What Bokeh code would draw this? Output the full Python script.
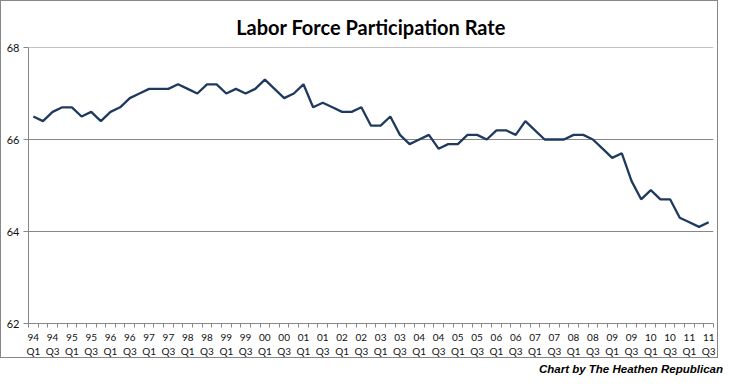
from bokeh.plotting import figure
from bokeh.models import FixedTicker, Range1d, Span, Div
from bokeh.layouts import column
from bokeh.embed import file_html
from bokeh.resources import INLINE

# ---- data ----
years = ["94", "95", "96", "97", "98", "99", "00", "01", "02",
         "03", "04", "05", "06", "07", "08", "09", "10", "11"]
quarters = ["Q1", "Q2", "Q3", "Q4"]
categories = [f"{y} {q}" for y in years for q in quarters][:71]  # 94 Q1 .. 11 Q3

rate = [66.5, 66.4, 66.6, 66.7, 66.7, 66.5, 66.6, 66.4,
        66.6, 66.7, 66.9, 67.0, 67.1, 67.1, 67.1, 67.2,
        67.1, 67.0, 67.2, 67.2, 67.0, 67.1, 67.0, 67.1,
        67.3, 67.1, 66.9, 67.0, 67.2, 66.7, 66.8, 66.7,
        66.6, 66.6, 66.7, 66.3, 66.3, 66.5, 66.1, 65.9,
        66.0, 66.1, 65.8, 65.9, 65.9, 66.1, 66.1, 66.0,
        66.2, 66.2, 66.1, 66.4, 66.2, 66.0, 66.0, 66.0,
        66.1, 66.1, 66.0, 65.8, 65.6, 65.7, 65.1, 64.7,
        64.9, 64.7, 64.7, 64.3, 64.2, 64.1, 64.2]

y_ticks = [62, 64, 66, 68]
title_text = "Labor Force Participation Rate"
credit_text = "Chart by The Heathen Republican"

# ---- figure ----
W, H = 718, 358
GRAY = "#878787"
p = figure(width=W, height=H, output_backend="svg", toolbar_location=None,
           x_range=Range1d(-0.5, len(categories) - 0.5),
           y_range=Range1d(y_ticks[0], y_ticks[-1]),
           title=title_text)
p.min_border_left = 27
p.min_border_right = 6
p.min_border_top = 46
p.min_border_bottom = 33
p.outline_line_color = None
p.background_fill_color = "white"
p.border_fill_color = "white"
p.styles = {"border": f"1px solid {GRAY}"}

p.title.align = "center"
p.title.text_font = "Lato"
p.title.text_font_style = "bold"
p.title.text_font_size = "20px"
p.title.text_color = "#000000"
p.title.standoff = 18

xs = list(range(len(categories)))
p.add_layout(Span(location=y_ticks[-1], dimension="width", line_color=GRAY, line_width=1))
p.line(xs, rate, line_color="#1F3A5F", line_width=2.3)

# x axis
label_idx = list(range(0, len(categories), 2))
p.xaxis.ticker = FixedTicker(ticks=label_idx,
                             minor_ticks=[i - 0.5 for i in range(len(categories) + 1)])
p.xaxis.major_label_overrides = {i: categories[i].replace(" ", "\n") for i in label_idx}
p.xaxis.major_tick_line_color = None
p.xaxis.major_tick_out = 0
p.xaxis.major_tick_in = 0
p.xaxis.minor_tick_line_color = GRAY
p.xaxis.minor_tick_out = 4
p.xaxis.minor_tick_in = 0
p.xaxis.axis_line_color = GRAY
p.xaxis.major_label_standoff = 3
p.xaxis.major_label_text_font = "Lato"
p.xaxis.major_label_text_font_size = "10px"
p.xaxis.major_label_text_color = "#111111"
p.xgrid.grid_line_color = None

# y axis
p.yaxis.ticker = FixedTicker(ticks=y_ticks)
p.yaxis.minor_tick_line_color = None
p.yaxis.major_tick_line_color = GRAY
p.yaxis.major_tick_out = 5
p.yaxis.major_tick_in = 0
p.yaxis.axis_line_color = GRAY
p.yaxis.major_label_standoff = 4
p.yaxis.major_label_text_font = "Lato"
p.yaxis.major_label_text_font_size = "11px"
p.yaxis.major_label_text_color = "#111111"
p.ygrid.grid_line_color = GRAY
p.ygrid.grid_line_width = 1

credit = Div(text=credit_text, width=720, height=12,
             styles={"text-align": "right", "font-family": "Liberation Sans",
                     "font-weight": "bold", "font-style": "italic",
                     "font-size": "11.5px", "color": "#000000",
                     "line-height": "12px", "width": "718px"})

layout = column(p, credit, spacing=0)
open("out.html", "w").write(file_html(layout, INLINE))
